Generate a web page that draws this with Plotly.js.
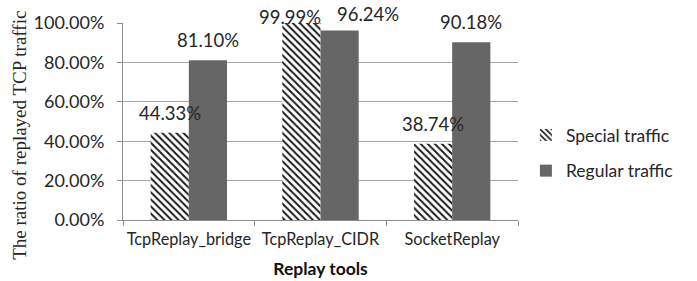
<!DOCTYPE html>
<html>
<head>
<meta charset="utf-8">
<script src="https://cdn.plot.ly/plotly-3.0.1.min.js"></script>
<style>html,body{margin:0;padding:0;background:#fff;}#chart{width:697px;height:281px;}</style>
</head>
<body>
<div id="chart"></div>
<script>
const categories = ["TcpReplay_bridge", "TcpReplay_CIDR", "SocketReplay"];
const specialTraffic = [44.33, 99.99, 38.74];
const regularTraffic = [81.10, 96.24, 90.18];
const seriesNames = ["Special traffic", "Regular traffic"];
const yTicks = [0, 20, 40, 60, 80, 100];

const fontMain = "Lato, 'Open Sans', sans-serif";
const txtColor = "#262626";

const traces = [
  {
    type: "bar", name: seriesNames[0], x: categories, y: specialTraffic,
    legendgroup: "a",
    marker: { color: "white", line: { width: 0 },
      pattern: { shape: "\\", fgcolor: "#1a1a1a", bgcolor: "white", size: 5, solidity: 0.4 } },
    hoverinfo: "none"
  },
  {
    type: "bar", name: seriesNames[1], x: categories, y: regularTraffic,
    legendgroup: "b",
    marker: { color: "#666666", line: { width: 0 } },
    hoverinfo: "none"
  }
];

// value labels
const annotations = [];
const half = 19;
function addLabels(vals, dir) {
  vals.forEach((v, i) => {
    let ys = 7, xs = dir * half;
    if (v > 99) { ys = -7; xs = dir * half - 12; }
    else if (v > 95) { ys = 3; xs = dir * half + 28; }
    annotations.push({
      x: categories[i], y: v, xref: "x", yref: "y",
      text: v.toFixed(2) + "%", showarrow: false,
      xshift: xs, yshift: ys, yanchor: "bottom",
      font: { family: fontMain, size: 18.5, color: txtColor }
    });
  });
}
addLabels(specialTraffic, -1);
addLabels(regularTraffic, 1);

annotations.push({
  xref: "paper", yref: "paper", x: -0.262, y: 0.43,
  text: "The ratio of replayed TCP traffic", textangle: -90, showarrow: false,
  xanchor: "center", yanchor: "middle",
  font: { family: "'Liberation Serif', 'Times New Roman', serif", size: 19, color: txtColor }
});

const layout = {
  width: 697, height: 281,
  margin: { l: 123, r: 179, t: 23, b: 61, pad: 0 },
  paper_bgcolor: "white", plot_bgcolor: "white",
  barmode: "group", bargap: 0.42, bargroupgap: 0,
  showlegend: true,
  legend: {
    x: 1.02, y: 0.34, xanchor: "left", yanchor: "middle",
    traceorder: "grouped", tracegroupgap: 10,
    font: { family: fontMain, size: 17.5, color: txtColor },
    itemwidth: 30
  },
  xaxis: {
    type: "category", tickangle: 0, automargin: false,
    tickson: "boundaries", ticks: "outside", ticklen: 5, tickcolor: "#8c8c8c",
    ticklabelstandoff: 4,
    showline: true, linecolor: "#8c8c8c", linewidth: 1,
    tickfont: { family: fontMain, size: 16.3, color: txtColor },
    title: { text: "<b>Replay tools</b>", font: { family: fontMain, size: 17.5, color: "#111" }, standoff: 16 }
  },
  yaxis: {
    range: [0, 100], automargin: false,
    tickvals: yTicks, ticktext: yTicks.map(v => v.toFixed(2) + "%"),
    ticklabelstandoff: 9,
    showgrid: true, gridcolor: "#a6a6a6", gridwidth: 1,
    showline: true, linecolor: "#8c8c8c", linewidth: 1,
    ticks: "outside", ticklen: 5, tickcolor: "#8c8c8c",
    tickfont: { family: fontMain, size: 18, color: txtColor },
    zeroline: false
  },
  annotations: annotations
};

Plotly.newPlot("chart", traces, layout, { displayModeBar: false, staticPlot: true });
</script>
</body>
</html>
